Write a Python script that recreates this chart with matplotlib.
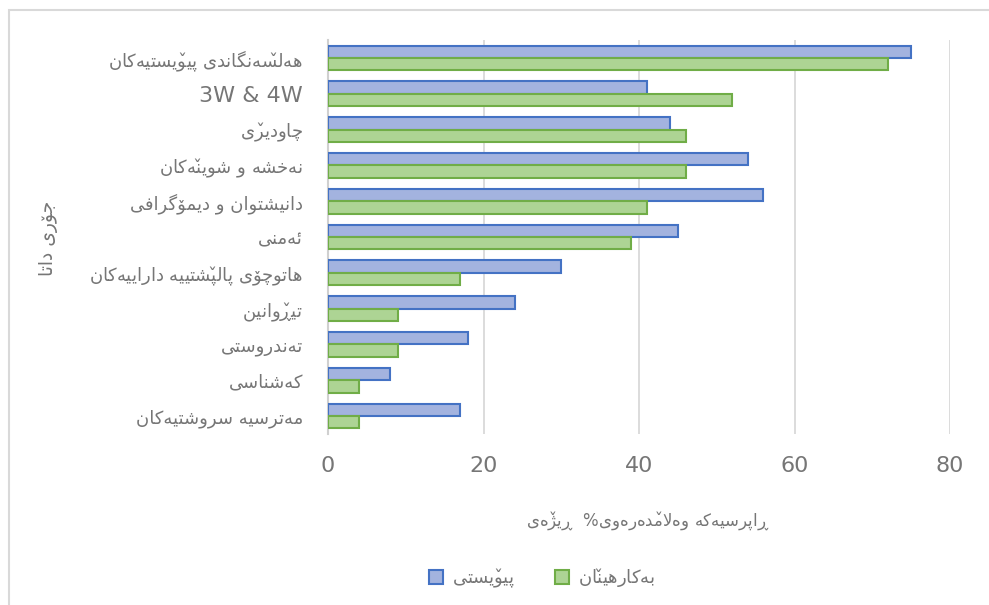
import matplotlib
matplotlib.use("Agg")
import matplotlib.pyplot as plt
from matplotlib.patches import Rectangle, Patch
import numpy as np

# data (top category first)
categories = [
    "هەڵسەنگاندی پێویستیەکان",
    "3W & 4W",
    "چاودێری",
    "نەخشە و شوێنەکان",
    "دانیشتوان و دیمۆگرافی",
    "ئەمنی",
    "هاتوچۆی پاڵپشتییە داراییەکان",
    "تێڕوانین",
    "تەندروستی",
    "کەشناسی",
    "مەترسیە سروشتیەکان",
]
needed = [75, 41, 44, 54, 56, 45, 30, 24, 18, 8, 17]
used = [72, 52, 46, 46, 41, 39, 17, 9, 9, 4, 4]
series_names = ["پێویستی", "بەکارهێنان"]
x_ticks = [0, 20, 40, 60, 80]
x_label = "ڕاپرسیەکە وەڵامدەرەوی%  ڕێژەی"
y_label = "جۆری داتا"

# matplotlib has no Arabic shaping, so pick presentation forms by hand
# (isolated, final[, initial, medial])
FORMS = {
    "ا": (0xFE8D, 0xFE8E), "د": (0xFEA9, 0xFEAA), "ر": (0xFEAD, 0xFEAE),
    "ڕ": (0x0695, 0x0695), "ژ": (0xFB8A, 0xFB8B), "و": (0xFEED, 0xFEEE),
    "ۆ": (0xFBD9, 0xFBDA), "ە": (0xFEE9, 0xFEEA), "لا": (0xFEFB, 0xFEFC),
    "ب": (0xFE8F, 0xFE90, 0xFE91, 0xFE92), "ت": (0xFE95, 0xFE96, 0xFE97, 0xFE98),
    "ج": (0xFE9D, 0xFE9E, 0xFE9F, 0xFEA0), "خ": (0xFEA5, 0xFEA6, 0xFEA7, 0xFEA8),
    "س": (0xFEB1, 0xFEB2, 0xFEB3, 0xFEB4), "ش": (0xFEB5, 0xFEB6, 0xFEB7, 0xFEB8),
    "ف": (0xFED1, 0xFED2, 0xFED3, 0xFED4), "ل": (0xFEDD, 0xFEDE, 0xFEDF, 0xFEE0),
    "م": (0xFEE1, 0xFEE2, 0xFEE3, 0xFEE4), "ن": (0xFEE5, 0xFEE6, 0xFEE7, 0xFEE8),
    "ه": (0xFEE9, 0xFEEA, 0xFEEB, 0xFEEC), "ی": (0xFBFC, 0xFBFD, 0xFBFE, 0xFBFF),
    "ئ": (0xFE89, 0xFE8A, 0xFE8B, 0xFE8C), "پ": (0xFB56, 0xFB57, 0xFB58, 0xFB59),
    "چ": (0xFB7A, 0xFB7B, 0xFB7C, 0xFB7D), "ک": (0xFB8E, 0xFB8F, 0xFB90, 0xFB91),
    "گ": (0xFB92, 0xFB93, 0xFB94, 0xFB95),
}
# letters with a small v on top: base letter + caron (via mathtext \check)
SPLIT = {"ێ": "ی", "ڵ": "ل"}


def shape(text):
    if not any(ch in FORMS or ch in SPLIT for ch in text):
        return text
    clusters = []
    for ch in text:
        base, mark = SPLIT.get(ch, ch), ch in SPLIT
        if base == "ا" and clusters and clusters[-1][0] == "ل":
            clusters[-1] = ["لا", clusters[-1][1]]
            continue
        clusters.append([base, mark])
    out = []
    for i, (base, mark) in enumerate(clusters):
        forms = FORMS.get(base)
        if forms is None:
            out.append((base, mark))
            continue
        prev = clusters[i - 1][0] if i > 0 else None
        nxt = clusters[i + 1][0] if i + 1 < len(clusters) else None
        join_prev = prev in FORMS and len(FORMS[prev]) == 4
        join_next = len(forms) == 4 and nxt in FORMS
        if join_prev and join_next:
            cp = forms[3]
        elif join_prev:
            cp = forms[1]
        elif join_next:
            cp = forms[2]
        else:
            cp = forms[0]
        out.append((chr(cp), mark))
    vis = out[::-1]
    if not any(m for _, m in vis):
        return "".join(g for g, _ in vis)
    parts = []
    for g, m in vis:
        if g == " ":
            parts.append(r"\ ")
        elif g == "%":
            parts.append(r"\%")
        elif m:
            parts.append(r"\check{%s}" % g)
        else:
            parts.append(g)
    return "$" + "".join(parts) + "$"


plt.rcParams["font.family"] = ["DejaVu Sans"]
plt.rcParams["mathtext.fontset"] = "dejavusans"
plt.rcParams["mathtext.default"] = "rm"
TXT = "#767676"
BLUE_FILL, BLUE_EDGE = "#a3b3df", "#4472c4"
GREEN_FILL, GREEN_EDGE = "#add494", "#70ad47"

fig = plt.figure(figsize=(9.89, 6.05), dpi=100)
ax = fig.add_axes([328 / 989, 1 - 434 / 605, 622 / 989, 394 / 605])

y = np.arange(len(categories))
h = 0.345
ax.barh(y - h / 2, needed, height=h, color=BLUE_FILL, edgecolor=BLUE_EDGE,
        linewidth=1.5, zorder=3)
ax.barh(y + h / 2, used, height=h, color=GREEN_FILL, edgecolor=GREEN_EDGE,
        linewidth=1.5, zorder=3)

ax.set_xlim(0, 80)
ax.set_ylim(len(categories) - 0.5, -0.5)
ax.set_xticks(x_ticks)
ax.set_xticklabels([str(t) for t in x_ticks], fontsize=16, color=TXT)
ax.set_yticks(y)
ax.set_yticklabels([shape(c) for c in categories], fontsize=13, color=TXT)
ax.get_yticklabels()[1].set_fontsize(16)
ax.tick_params(axis="x", length=0, pad=16)
ax.tick_params(axis="y", length=0, pad=18)
ax.grid(axis="x", color="#d9d9d9", linewidth=1.3, zorder=0)
for side in ["top", "right", "bottom"]:
    ax.spines[side].set_visible(False)
ax.spines["left"].set_color("#d0d0d0")
ax.spines["left"].set_linewidth(1.5)

fig.text(648 / 989, 1 - 521 / 605, shape(x_label), ha="center", va="center",
         fontsize=12, color=TXT)
fig.text(48 / 989, 1 - 238 / 605, shape(y_label), ha="center", va="center",
         rotation=90, fontsize=13.5, color=TXT)

handles = [Patch(facecolor=BLUE_FILL, edgecolor=BLUE_EDGE, linewidth=1.5),
           Patch(facecolor=GREEN_FILL, edgecolor=GREEN_EDGE, linewidth=1.5)]
fig.legend(handles, [shape(s) for s in series_names], ncol=2, frameon=False,
           loc="center", bbox_to_anchor=(542 / 989, 1 - 578 / 605),
           fontsize=13, labelcolor=TXT, handlelength=0.8, handleheight=0.8,
           handletextpad=0.5, columnspacing=2.2)

# chart area border (only top and left edges fall inside the picture)
fig.patches.append(Rectangle((9 / 989, -0.1), 1.2, 1.1 - 10 / 605,
                             transform=fig.transFigure, fill=False,
                             edgecolor="#d9d9d9", linewidth=1.5))

fig.savefig("out.png", dpi=100)
